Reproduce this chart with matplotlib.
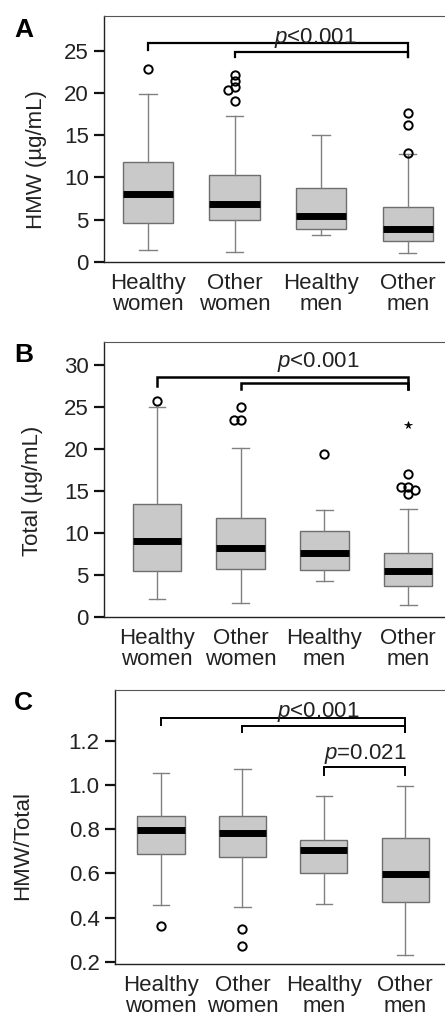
import matplotlib
matplotlib.use("Agg")
import matplotlib.pyplot as plt

plt.rcParams['font.family'] = ['Liberation Sans', 'DejaVu Sans']
plt.rcParams['mathtext.fontset'] = 'custom'
plt.rcParams['mathtext.rm'] = 'Liberation Sans'
plt.rcParams['mathtext.it'] = 'Liberation Sans:italic'

groups = ['Healthy\nwomen', 'Other\nwomen', 'Healthy\nmen', 'Other\nmen']

# panel A: HMW (ug/mL)
hmw_whislo = [1.4, 1.15, 3.2, 1.05]
hmw_q1 = [4.65, 5.0, 3.95, 2.45]
hmw_med = [8.1, 6.9, 5.5, 3.9]
hmw_q3 = [11.8, 10.3, 8.7, 6.5]
hmw_whishi = [19.9, 17.3, 15.0, 12.8]
hmw_out = [[22.8], [22.15, 21.4, 20.7, 20.4, 19.0], [], [17.6, 16.2, 12.9]]
hmw_extreme = [[], [], [], []]

# panel B: Total (ug/mL)
tot_whislo = [2.15, 1.67, 4.25, 1.4]
tot_q1 = [5.5, 5.7, 5.64, 3.66]
tot_med = [9.06, 8.27, 7.67, 5.48]
tot_q3 = [13.5, 11.85, 10.3, 7.63]
tot_whishi = [25.1, 20.15, 12.8, 12.9]
tot_out = [[25.8], [25.1, 23.5, 23.5], [19.4], [17.0, 15.5, 15.5, 15.2, 14.7]]
tot_extreme = [[], [], [], [22.85]]

# panel C: HMW/Total
rat_whislo = [0.459, 0.45, 0.462, 0.229]
rat_q1 = [0.689, 0.673, 0.601, 0.471]
rat_med = [0.795, 0.783, 0.705, 0.599]
rat_q3 = [0.858, 0.858, 0.753, 0.759]
rat_whishi = [1.054, 1.072, 0.951, 0.994]
rat_out = [[0.361], [0.349, 0.271], [], []]
rat_extreme = [[], [], [], []]

W, H = 445, 1022
fig = plt.figure(figsize=(W / 100, H / 100), dpi=100)


def make_panel(letter, rect, xlim, ylim, yticks, yfmt, ylabel, label_xy,
               letter_y, whislo, q1, med, q3, whishi, out, extreme,
               brackets, texts, blw):
    left, top, right, bottom = rect
    ax = fig.add_axes([left / W, 1 - bottom / H, (right - left) / W, (bottom - top) / H])
    stats = []
    for i in range(4):
        stats.append(dict(whislo=whislo[i], q1=q1[i], med=med[i], q3=q3[i],
                          whishi=whishi[i], fliers=[]))
    ax.bxp(stats, positions=[1, 2, 3, 4], widths=0.58, capwidths=0.2,
           showfliers=False, patch_artist=True,
           boxprops=dict(facecolor='#c9c9c9', edgecolor='#6e6e6e', linewidth=1.0),
           whiskerprops=dict(color='#808080', linewidth=1.0),
           capprops=dict(color='#808080', linewidth=1.0),
           medianprops=dict(color='black', linewidth=5, solid_capstyle='butt'))
    # outliers, dodged sideways when they overlap
    thr = (ylim[1] - ylim[0]) * 0.02
    dx = 0.08
    for i in range(4):
        placed = []
        for v in out[i]:
            for off in (0, -dx, dx):
                if all(abs(v - pv) >= thr or po != off for pv, po in placed):
                    break
            placed.append((v, off))
            ax.plot(i + 1 + off, v, 'o', mfc='none', mec='black', ms=6, mew=1.4)
        for v in extreme[i]:
            ax.plot(i + 1, v, '*', color='black', ms=5.5, mew=0.5)
    for x1, x2, y, y1, y2 in brackets:
        ax.plot([x1, x1, x2, x2], [y1, y, y, y2], color='black', lw=blw,
                solid_joinstyle='miter')
    for x, y, s in texts:
        ax.text(x, y, s, ha='center', va='baseline', fontsize=16, color='#222222')
    ax.set_xlim(*xlim)
    ax.set_ylim(*ylim)
    ax.set_yticks(yticks)
    ax.set_yticklabels([yfmt.format(t) for t in yticks])
    ax.set_xticks([1, 2, 3, 4])
    ax.set_xticklabels(groups, linespacing=1.0)
    ax.tick_params(axis='x', length=0, pad=8, labelsize=16, labelcolor='#222222')
    ax.tick_params(axis='y', length=7, width=1.6, pad=4, labelsize=16,
                   labelcolor='#222222', color='#111111')
    ax.spines['right'].set_visible(False)
    ax.spines['top'].set_color('#555555')
    ax.spines['top'].set_linewidth(0.8)
    for s in ('left', 'bottom'):
        ax.spines[s].set_color('#222222')
        ax.spines[s].set_linewidth(1.0)
    ax.set_ylabel(ylabel, fontsize=16, color='#222222')
    ax.yaxis.set_label_coords(*label_xy)
    fig.text(14 / W, 1 - letter_y / H, letter, fontsize=19, fontweight='bold',
             va='baseline', ha='left')
    return ax


make_panel('A', (104, 16, 445, 262), (0.493, 4.43), (0, 29.1),
           [0, 5, 10, 15, 20, 25], '{:g}', 'HMW (µg/mL)', (-0.167, 0.415), 37,
           hmw_whislo, hmw_q1, hmw_med, hmw_q3, hmw_whishi, hmw_out, hmw_extreme,
           [(1, 4, 25.9, 25.1, 24.2), (2, 4, 24.9, 24.2, 24.2)],
           [(2.93, 25.95, '$p$<0.001')], 1.6)

make_panel('B', (104, 342, 445, 617), (0.367, 4.44), (0, 32.8),
           [0, 5, 10, 15, 20, 25, 30], '{:g}', 'Total (µg/mL)', (-0.18, 0.458), 362,
           tot_whislo, tot_q1, tot_med, tot_q3, tot_whishi, tot_out, tot_extreme,
           [(1, 4, 28.6, 27.6, 27.15), (2, 4, 27.94, 27.15, 27.15)],
           [(2.93, 29.8, '$p$<0.001')], 1.8)

make_panel('C', (115, 690, 445, 964), (0.434, 4.49), (0.19, 1.43),
           [0.2, 0.4, 0.6, 0.8, 1.0, 1.2], '{:.1f}', 'HMW/Total', (-0.248, 0.434), 710,
           rat_whislo, rat_q1, rat_med, rat_q3, rat_whishi, rat_out, rat_extreme,
           [(1, 4, 1.302, 1.272, 1.238), (2, 4, 1.269, 1.238, 1.238),
            (3, 4, 1.081, 1.046, 1.046)],
           [(2.93, 1.307, '$p$<0.001'), (3.51, 1.119, '$p$=0.021')], 1.4)

fig.savefig('out.png', dpi=100)
